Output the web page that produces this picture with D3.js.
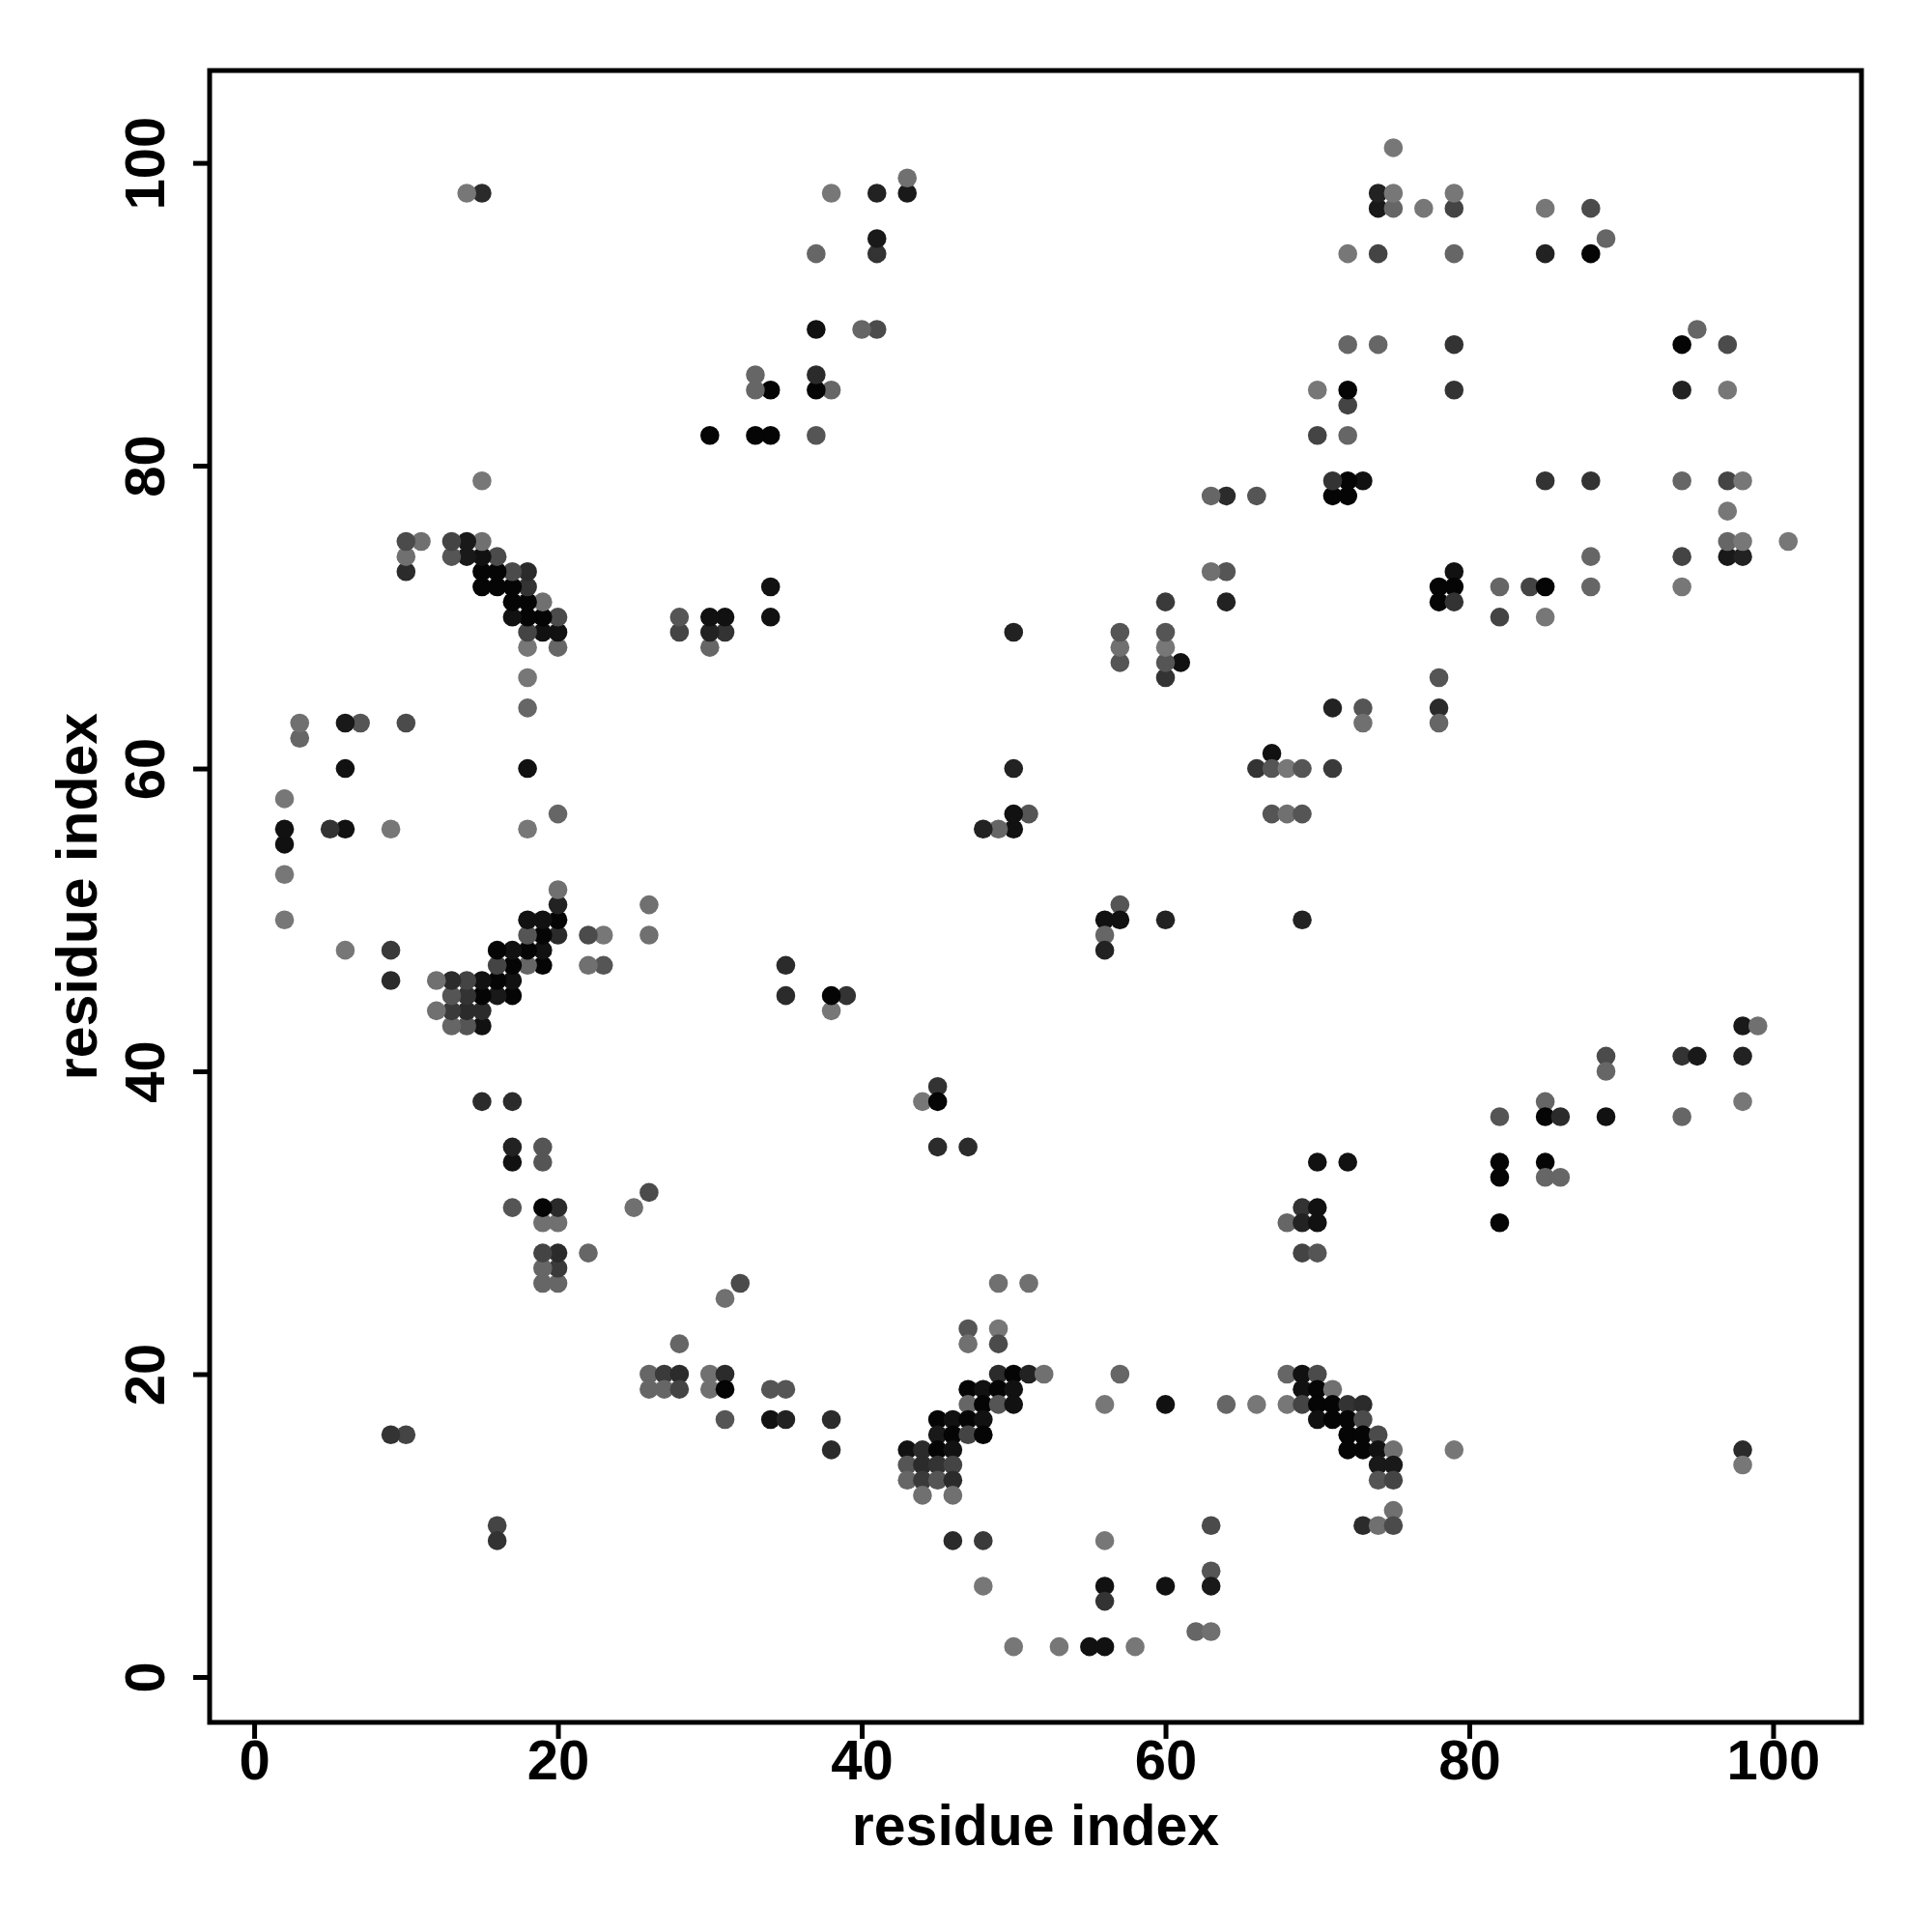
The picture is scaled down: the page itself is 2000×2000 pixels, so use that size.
<!DOCTYPE html>
<html><head><meta charset="utf-8">
<script src="https://cdn.jsdelivr.net/npm/d3@7"></script>
<style>body{margin:0;background:#fff}</style>
</head><body>
<svg id="chart" width="2000" height="2000" xmlns="http://www.w3.org/2000/svg"></svg>
<script>
// Contact map: each contact listed once (residue i > residue j); the map is symmetric,
// so each contact is drawn at (i, j) and at (j, i).
const contactI = [
  16,16,32,31,28,26,27,28,30,31,
  26,27,28,30,31,34,35,31,34,35,
  38,38,49,47,47,49,49,49,50,47,
  48,49,50,47,48,49,50,45,46,47,
  48,45,46,47,48,43,44,45,46,43,
  44,45,46,43,44,45,46,44,46,46,
  48,48,50,45,47,70,72,69,70,68,
  69,70,69,70,51,51,52,57,56,60,
  64,66,68,68,69,70,69,70,71,69,
  70,71,72,73,70,71,72,73,72,73,
  74,72,73,74,75,74,75,74,75,75,
  73,74,75,63,56,56,56,60,63,63,
  62,63,53,55,56,58,82,82,82,85,
  85,86,79,98,98,45,44,45,57,56,
  57,56,56,60,69,67,66,67,68,69,
  71,67,68,69,71,73,73,82,85,78,
  78,78,98,99,89,89,94,95,98,85,
  85,86,82,89,94,98,79,78,79,82,
  84,85,78,79,88,94,88,94,97,98,
  97,98,101,97,85,88,94,97,98,94,
  97,94,97,95
];
const contactJ = [
  10,9,26,25,22,20,20,20,20,20,
  19,19,19,19,19,19,19,17,17,17,
  17,15,26,23,22,23,22,20,20,19,
  19,19,19,18,18,18,18,17,17,17,
  17,16,16,16,16,15,15,15,15,14,
  14,14,14,13,13,13,13,12,12,9,
  9,6,2,35,35,34,34,31,31,30,
  30,30,28,28,26,20,20,20,18,18,
  18,18,18,20,20,20,19,19,19,18,
  18,18,18,18,17,17,17,17,16,16,
  16,15,15,15,15,14,14,13,13,11,
  10,10,10,10,9,6,5,6,7,6,
  3,3,2,2,2,2,34,33,30,34,
  33,33,15,15,14,39,38,38,51,50,
  50,49,48,50,50,61,60,60,60,60,
  60,57,57,57,64,64,63,70,70,66,
  64,63,43,43,41,40,41,41,41,38,
  37,37,37,37,37,38,73,72,72,72,
  72,72,71,71,72,72,74,74,74,74,
  75,75,75,77,79,79,79,79,79,85,
  85,88,88,89
];
const contactProb = [
  .60,.70,.56,.34,.40,.40,.66,.75,.34,.75,
  .40,.40,.60,.34,.97,.50,.50,.50,.90,.80,
  .75,.75,.34,.50,.34,.30,.56,.75,.97,.97,
  .90,.97,.90,.40,.97,.50,.90,.97,.90,.97,
  .90,.85,.97,.60,.97,.90,.75,.97,.90,.50,
  .75,.70,.60,.40,.66,.50,.75,.34,.34,.75,
  .66,.30,.30,.75,.75,.90,.90,.70,.90,.40,
  .80,.90,.60,.50,.34,.80,.34,.40,.30,.90,
  .40,.30,.30,.40,.90,.56,.90,.97,.34,.60,
  .97,.97,.70,.75,.90,.97,.97,.56,.97,.97,
  .56,.97,.97,.90,.34,.85,.85,.50,.60,.34,
  .75,.34,.56,.56,.30,.90,.70,.90,.50,.85,
  .40,.34,.30,.90,.90,.30,.97,.97,.97,.97,
  .40,.40,.30,.75,.30,.70,.30,.97,.50,.90,
  .90,.40,.80,.80,.80,.90,.70,.50,.30,.50,
  .66,.50,.34,.50,.80,.50,.34,.60,.30,.50,
  .75,.40,.85,.34,.56,.40,.70,.85,.80,.40,
  .97,.75,.50,.90,.40,.30,.90,.97,.97,.40,
  .60,.97,.97,.70,.40,.30,.40,.60,.85,.80,
  .40,.30,.30,.30,.70,.70,.40,.60,.30,.80,
  .30,.97,.56,.40
];
const xTicks = [0, 20, 40, 60, 80, 100];
const yTicks = [0, 20, 40, 60, 80, 100];
const xTitle = "residue index";
const yTitle = "residue index";

const FONT = "'Liberation Sans', Arial, Helvetica, sans-serif";
const FS = 58;
const svg = d3.select("#chart");
const x = d3.scaleLinear().domain([-2.93, 105.82]).range([217, 1927]);
const y = d3.scaleLinear().domain([-3.0, 106.1]).range([1783, 73]);
const shade = d3.scaleLinear().domain([0.3, 1]).range(["#777777", "#000000"]);

svg.append("rect").attr("width", 2000).attr("height", 2000).attr("fill", "#fff");

const pts = [];
contactI.forEach((ri, k) => {
  pts.push({x: ri, y: contactJ[k], p: contactProb[k]});
  pts.push({x: contactJ[k], y: ri, p: contactProb[k]});
});

svg.append("g").selectAll("circle").data(pts).join("circle")
  .attr("cx", d => x(d.x)).attr("cy", d => y(d.y))
  .attr("r", 9.8).attr("fill", d => shade(d.p));

// x axis
const gx = svg.append("g").attr("transform", "translate(0,1783)")
  .call(d3.axisBottom(x).tickValues(xTicks).tickSize(17).tickFormat(d3.format("d")));
gx.select(".domain").remove();
gx.attr("font-size", FS).attr("font-family", FONT).attr("font-weight", "bold");
gx.selectAll(".tick line").attr("stroke", "#000").attr("stroke-width", 5);
gx.selectAll(".tick text").attr("y", 59).attr("dy", 0).attr("fill", "#000");

// y axis
const gy = svg.append("g").attr("transform", "translate(217,0)")
  .call(d3.axisLeft(y).tickValues(yTicks).tickSize(17).tickFormat(d3.format("d")));
gy.select(".domain").remove();
gy.attr("font-size", FS).attr("font-family", FONT).attr("font-weight", "bold");
gy.selectAll(".tick line").attr("stroke", "#000").attr("stroke-width", 5);
gy.selectAll(".tick text").attr("x", 0).attr("dy", 0).attr("fill", "#000")
  .attr("text-anchor", "middle").attr("transform", "translate(-47,0) rotate(-90)");

// box
svg.append("rect").attr("x", 217).attr("y", 73).attr("width", 1710).attr("height", 1710)
  .attr("fill", "none").attr("stroke", "#000").attr("stroke-width", 5);

// titles
svg.append("text").attr("x", 1072).attr("y", 1910).attr("text-anchor", "middle")
  .attr("font-family", FONT).attr("font-weight", "bold").attr("font-size", FS + 1).text(xTitle);
svg.append("text").attr("transform", "translate(100,928) rotate(-90)").attr("text-anchor", "middle")
  .attr("font-family", FONT).attr("font-weight", "bold").attr("font-size", FS + 1).text(yTitle);
</script>
</body></html>
